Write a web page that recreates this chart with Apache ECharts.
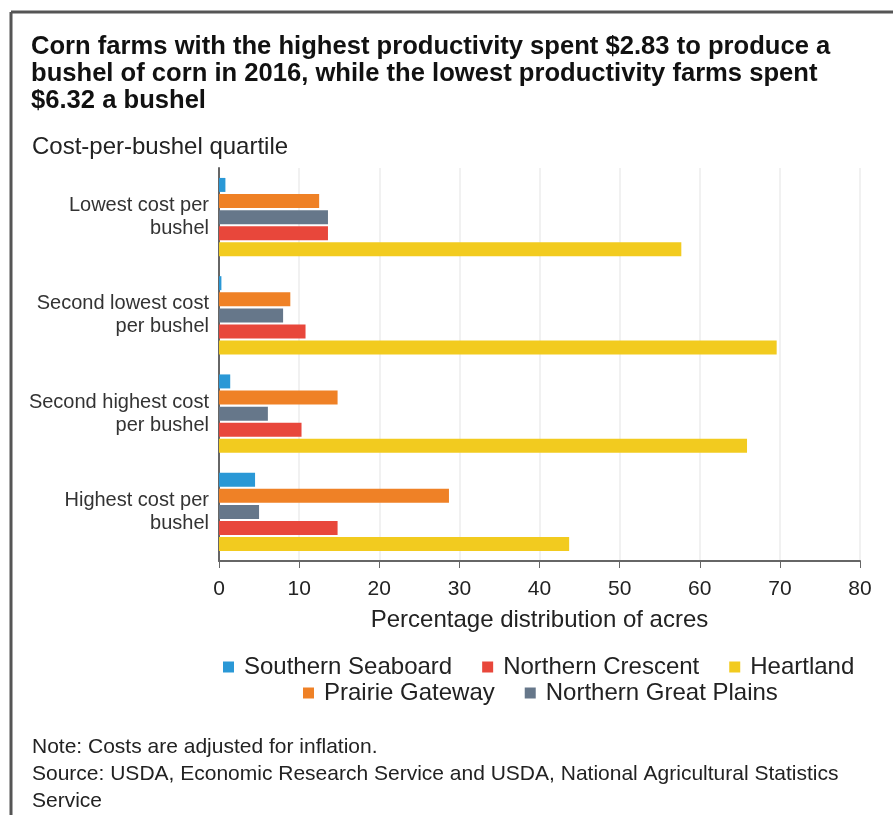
<!DOCTYPE html>
<html>
<head>
<meta charset="utf-8">
<script src="https://cdn.jsdelivr.net/npm/echarts@6/dist/echarts.min.js"></script>
<style>
html,body{margin:0;padding:0;background:#fff;}
#chart{width:893px;height:815px;}
</style>
</head>
<body>
<div id="chart"></div>
<script>
const categories = [
  'Lowest cost per\nbushel',
  'Second lowest cost\nper bushel',
  'Second highest cost\nper bushel',
  'Highest cost per\nbushel'
];
const seriesNames = ['Southern Seaboard', 'Prairie Gateway', 'Northern Great Plains', 'Northern Crescent', 'Heartland'];
const southernSeaboard = [0.8, 0.3, 1.4, 4.5];
const prairieGateway = [12.5, 8.9, 14.8, 28.7];
const northernGreatPlains = [13.6, 8.0, 6.1, 5.0];
const northernCrescent = [13.6, 10.8, 10.3, 14.8];
const heartland = [57.7, 69.6, 65.9, 43.7];
const xTicks = [0, 10, 20, 30, 40, 50, 60, 70, 80];

const colors = {
  'Southern Seaboard': '#2a98d6',
  'Prairie Gateway': '#ef8126',
  'Northern Great Plains': '#66778a',
  'Northern Crescent': '#e8473b',
  'Heartland': '#f2cb1f'
};
const dataByName = {
  'Southern Seaboard': southernSeaboard,
  'Prairie Gateway': prairieGateway,
  'Northern Great Plains': northernGreatPlains,
  'Northern Crescent': northernCrescent,
  'Heartland': heartland
};

const FONT = '"Liberation Sans", Arial, sans-serif';
const chart = echarts.init(document.getElementById('chart'), null, {renderer: 'canvas'});

const legendText = {fontSize: 24, color: '#222', fontFamily: FONT, padding: [0, 0, 0, 5]};
chart.setOption({
  backgroundColor: '#fff',
  animation: false,
  title: [{
    text: 'Corn farms with the highest productivity spent $2.83 to produce a\nbushel of corn in 2016, while the lowest productivity farms spent\n$6.32 a bushel',
    left: 26, top: 28,
    textStyle: {fontSize: 25.6, fontWeight: 'bold', color: '#111', lineHeight: 27, fontFamily: FONT}
  }, {
    text: 'Cost-per-bushel quartile',
    left: 27, top: 130,
    textStyle: {fontSize: 24, fontWeight: 'normal', color: '#222', fontFamily: FONT}
  }, {
    text: 'Note: Costs are adjusted for inflation.\nSource: USDA, Economic Research Service and USDA, National Agricultural Statistics\nService',
    left: 27, top: 729,
    textStyle: {fontSize: 21, fontWeight: 'normal', color: '#222', lineHeight: 27, fontFamily: FONT}
  }],
  graphic: [
    {type: 'line', shape: {x1: 11, y1: 12, x2: 893, y2: 12}, style: {stroke: '#555', lineWidth: 3}},
    {type: 'line', shape: {x1: 11, y1: 12, x2: 11, y2: 815}, style: {stroke: '#555', lineWidth: 3}}
  ],
  legend: [{
    data: ['Southern Seaboard', 'Northern Crescent', 'Heartland'],
    left: 218, top: 650,
    icon: 'rect', itemWidth: 11, itemHeight: 11, itemGap: 30,
    textStyle: legendText
  }, {
    data: ['Prairie Gateway', 'Northern Great Plains'],
    left: 298, top: 676,
    icon: 'rect', itemWidth: 11, itemHeight: 11, itemGap: 30,
    textStyle: legendText
  }],
  grid: {left: 219, right: 33, top: 168, height: 393, containLabel: false},
  xAxis: {
    type: 'value', min: 0, max: 80, interval: 10,
    name: 'Percentage distribution of acres',
    nameLocation: 'middle', nameGap: 47,
    nameTextStyle: {fontSize: 24, color: '#222', fontFamily: FONT},
    axisLine: {show: true, lineStyle: {color: '#666', width: 2}},
    axisTick: {show: true, length: 7, lineStyle: {color: '#666'}},
    axisLabel: {fontSize: 21, color: '#222', margin: 18, fontFamily: FONT,
      formatter: v => xTicks.includes(v) ? String(v) : ''},
    splitLine: {show: true, lineStyle: {color: '#ececec', width: 1.5}}
  },
  yAxis: {
    type: 'category', data: categories, inverse: true,
    axisLine: {show: true, lineStyle: {color: '#666', width: 2}},
    axisTick: {show: false},
    axisLabel: {fontSize: 20, color: '#333', fontWeight: 500, lineHeight: 23, margin: 10, align: 'right', fontFamily: FONT},
    splitLine: {show: false}
  },
  series: seriesNames.map(n => ({
    name: n, type: 'bar', data: dataByName[n],
    barWidth: 14, barGap: '15%',
    itemStyle: {color: colors[n]}
  }))
});
</script>
</body>
</html>
